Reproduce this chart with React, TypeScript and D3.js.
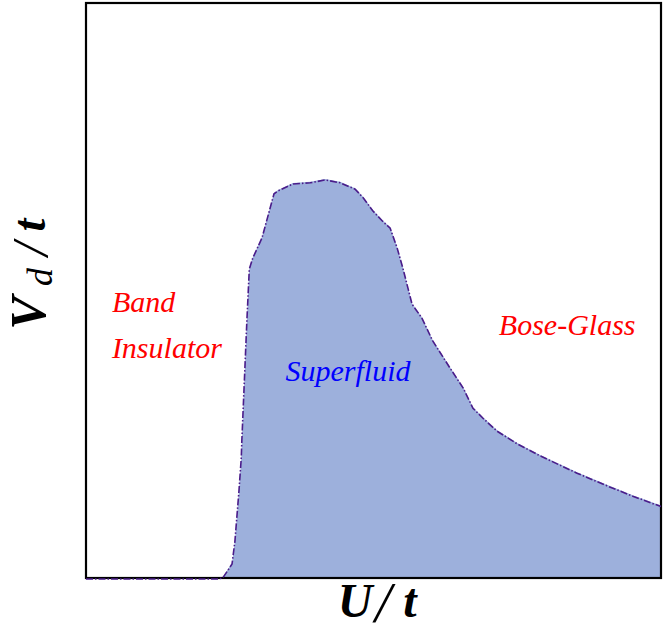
import React from 'react';
import * as d3 from 'd3';

// phase boundary of the superfluid region (U/t, Vd/t)
const uValues = [
  0, 2.3, 2.38, 2.54, 2.59, 2.66, 2.7, 2.71, 2.8, 2.84, 2.9, 3.06, 3.27, 3.34, 3.6, 3.9,
  4.16, 4.42, 4.68, 4.82, 4.99, 5.15, 5.29, 5.41, 5.51, 5.67, 5.84, 6.03, 6.33, 6.56,
  6.73, 6.9, 7.15, 7.5, 7.9, 8.54, 9.06, 9.51, 10,
];
const vdValues = [
  0, 0, 0.02, 0.26, 0.66, 1.53, 2.1, 2.4, 4.54, 5.39, 5.58, 5.93, 6.7, 6.75, 6.87, 6.89,
  6.94, 6.89, 6.78, 6.63, 6.4, 6.23, 6.1, 5.76, 5.41, 4.78, 4.54, 4.14, 3.67, 3.32,
  2.97, 2.8, 2.57, 2.35, 2.14, 1.84, 1.62, 1.44, 1.26,
];

const phaseLabels = [
  { lines: ['Band', 'Insulator'], u: 0.45, vd: [4.63, 3.83], color: '#ff0000' },
  { lines: ['Superfluid'], u: 3.47, vd: [3.43], color: '#0000ff' },
  { lines: ['Bose-Glass'], u: 7.18, vd: [4.23], color: '#ff0000' },
];

const App = () => {
  const W = 664;
  const H = 640;
  const margin = { top: 3, right: 3, bottom: 62, left: 86 };
  const width = W - margin.left - margin.right;
  const height = H - margin.top - margin.bottom;

  const x = d3.scaleLinear().domain([0, 10]).range([0, width]);
  const y = d3.scaleLinear().domain([0, 10]).range([height, 0]);

  const data = uValues.map((u, i) => ({ u, vd: vdValues[i] }));

  const area = d3
    .area<{ u: number; vd: number }>()
    .x(d => x(d.u))
    .y0(y(0))
    .y1(d => y(d.vd));

  const line = d3
    .line<{ u: number; vd: number }>()
    .x(d => x(d.u))
    .y(d => y(d.vd));

  const font = '"Liberation Serif", "DejaVu Serif", serif';

  return (
    <svg width={W} height={H} style={{ position: 'absolute', left: 0, top: 0 }}>
      <g transform={`translate(${margin.left},${margin.top})`}>
        <path d={area(data) || ''} fill="#9db0dc" />
        <rect x={0} y={0} width={width} height={height} fill="none" stroke="#000" strokeWidth={2.2} />
        <path
          d={line(data) || ''}
          fill="none"
          stroke="#4a1c8a"
          strokeWidth={1.6}
          strokeDasharray="7,2,1.5,2"
          transform="translate(0,1)"
        />

        {phaseLabels.map((p, i) =>
          p.lines.map((t, j) => (
            <text
              key={`${i}-${j}`}
              x={x(p.u)}
              y={y(p.vd[j])}
              fill={p.color}
              fontFamily={font}
              fontStyle="italic"
              fontSize={30}
            >
              {t}
            </text>
          ))
        )}
      </g>

      {/* x axis title U/t */}
      <g fontFamily={font} fontStyle="italic" fontWeight="bold" textAnchor="middle">
        <text x={355} y={617} fontSize={48}>U</text>
        <text x={383} y={622} fontSize={58} fontWeight="normal">/</text>
        <text x={410} y={617} fontSize={48}>t</text>
      </g>

      {/* y axis title Vd/t */}
      <g fontFamily={font} fontStyle="italic" fontWeight="bold" textAnchor="middle">
        <text transform="translate(45,313) rotate(-90)" fontSize={50}>V</text>
        <text transform="translate(52,277) rotate(-90)" fontSize={36} fontWeight="normal">d</text>
        <text transform="translate(47,249) rotate(-90)" fontSize={50} fontWeight="normal">/</text>
        <text transform="translate(45,225) rotate(-90)" fontSize={46}>t</text>
      </g>
    </svg>
  );
};

export default App;
